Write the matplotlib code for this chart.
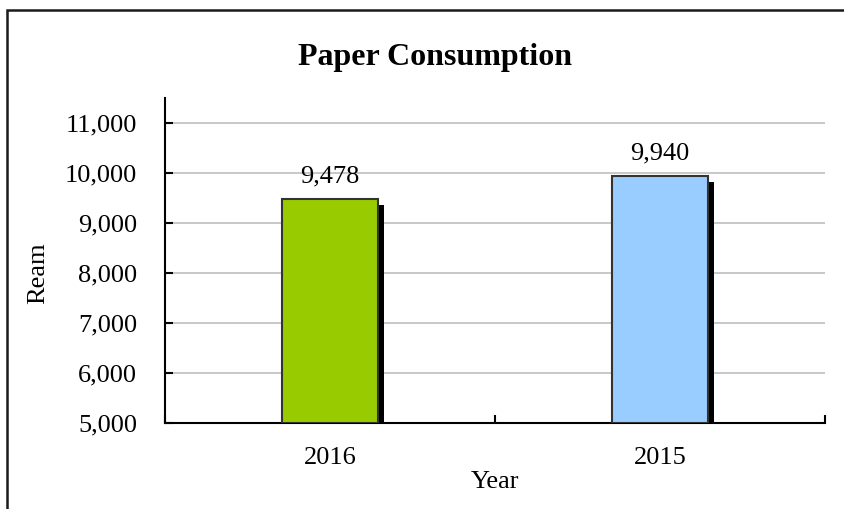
import matplotlib
matplotlib.use("Agg")
import matplotlib.pyplot as plt
import matplotlib.patheffects as pe
from matplotlib.patches import Rectangle
from matplotlib.ticker import FuncFormatter, FixedLocator

# data
years = ["2016", "2015"]
reams = [9478, 9940]
bar_colors = ["#99CC00", "#99CCFF"]
y_ticks = [5000, 6000, 7000, 8000, 9000, 10000, 11000]

plt.rcParams['font.family'] = ['Liberation Serif', 'DejaVu Serif']

fig = plt.figure(figsize=(8.44, 5.09), dpi=100)
ax = fig.add_axes([165 / 844, 1 - 423 / 509, 660 / 844, 325 / 509])

# outer chart frame (runs off right and bottom edge)
fig.patches.append(Rectangle((7 / 844, -0.1), 1.2, 1.1 - 10 / 509,
                             transform=fig.transFigure, fill=False,
                             edgecolor="#1a1a1a", linewidth=1.8, zorder=0))

x = list(range(len(years)))
shadow = [pe.SimplePatchShadow(offset=(4.5, -4.5), shadow_rgbFace="black", alpha=1.0), pe.Normal()]
bars = ax.bar(x, [v - 5000 for v in reams], bottom=5000, width=0.29,
              color=bar_colors, edgecolor="#333333", linewidth=1.5, zorder=3)
for b in bars:
    b.set_path_effects(shadow)

for xi, v in zip(x, reams):
    ax.annotate(f"{v:,}", (xi, v), xytext=(0, 12), textcoords="offset points",
                ha="center", va="baseline", fontsize=19)

ax.set_xlim(-0.5, len(years) - 0.5)
ax.set_ylim(5000, 11500)
ax.set_yticks(y_ticks)
ax.yaxis.set_major_formatter(FuncFormatter(lambda v, p: f"{int(v):,}"))
ax.grid(axis="y", color="#BFBFBF", linewidth=1.2, zorder=0)
ax.set_axisbelow(True)

ax.set_xticks(x)
ax.set_xticklabels(years)
ax.xaxis.set_minor_locator(FixedLocator([-0.5, 0.5, 1.5]))
ax.tick_params(axis="x", which="major", length=0, pad=17, labelsize=19)
ax.tick_params(axis="x", which="minor", direction="in", length=6, width=1.5)
ax.tick_params(axis="y", direction="in", length=6, width=1.5, pad=20, labelsize=19)

for s in ["top", "right"]:
    ax.spines[s].set_visible(False)
for s in ["left", "bottom"]:
    ax.spines[s].set_linewidth(1.5)

ax.set_xlabel("Year", fontsize=19, labelpad=2)
ax.set_ylabel("Ream", fontsize=19, va="center")
ax.yaxis.set_label_coords(-0.192, 0.46)

fig.text(435 / 844, 1 - 65 / 509, "Paper Consumption", ha="center", va="baseline",
         fontsize=23, fontweight="bold")

fig.savefig("out.png", dpi=100)
